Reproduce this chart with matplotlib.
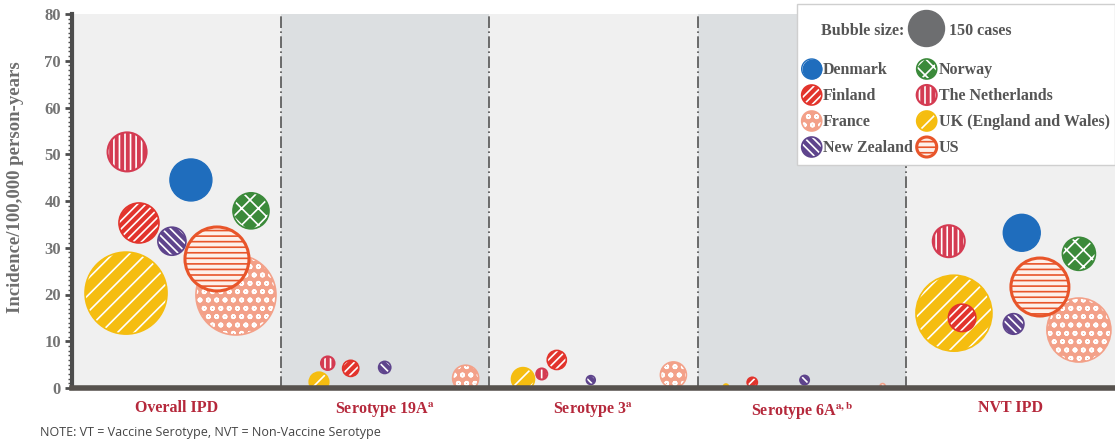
import numpy as np
import matplotlib
matplotlib.use('Agg')
import matplotlib.pyplot as plt
from matplotlib.patches import Rectangle
from matplotlib.ticker import MultipleLocator

# ---------------- data ----------------
panels = ['Overall IPD', 'Serotype 19A', 'Serotype 3', 'Serotype 6A', 'NVT IPD']
panel_sup = ['', 'a', 'a', 'a,b', '']
countries = ['Denmark', 'Finland', 'France', 'New Zealand',
             'Norway', 'The Netherlands', 'UK (England and Wales)', 'US']
nan = np.nan
# incidence per 100,000 person-years, per panel
incidence = {
    'Denmark':                [44.5, nan, nan, nan, 33.2],
    'Finland':                [35.3, 4.2, 6.0, 1.2, 15.0],
    'France':                 [19.9, 2.1, 2.8, 0.4, 12.4],
    'New Zealand':            [31.4, 4.4, 1.7, 1.7, 13.7],
    'Norway':                 [37.9, nan, nan, nan, 28.7],
    'The Netherlands':        [50.5, 5.3, 3.0, nan, 31.4],
    'UK (England and Wales)': [20.3, 1.3, 1.9, 0.3, 16.0],
    'US':                     [27.6, nan, nan, nan, 21.6],
}
# number of cases (bubble size)
cases = {
    'Denmark':                [204, 0, 0, 0, 158],
    'Finland':                [185, 30, 42, 12, 87],
    'France':                 [741, 78, 78, 3, 474],
    'New Zealand':            [91, 17, 9, 10, 49],
    'Norway':                 [150, 0, 0, 0, 126],
    'The Netherlands':        [176, 21, 14, 0, 118],
    'UK (England and Wales)': [778, 44, 61, 3, 668],
    'US':                     [474, 0, 0, 0, 389],
}
# horizontal position of each bubble within its panel
x_offset = {
    'Denmark':                [0.570, nan, nan, nan, 0.553],
    'Finland':                [0.321, 0.336, 0.324, 0.261, 0.267],
    'France':                 [0.786, 0.887, 0.883, 0.886, 0.827],
    'New Zealand':            [0.479, 0.499, 0.487, 0.512, 0.514],
    'Norway':                 [0.858, nan, nan, nan, 0.827],
    'The Netherlands':        [0.264, 0.226, 0.252, nan, 0.203],
    'UK (England and Wales)': [0.259, 0.184, 0.162, 0.135, 0.228],
    'US':                     [0.695, nan, nan, nan, 0.640],
}
ref_cases = 150
yticks = list(range(0, 81, 10))

# ---------------- styles ----------------
style = {
    'Denmark':                dict(color='#1f6dbd', face='#1f6dbd', hatch=None, hc='#1f6dbd', lw=1.0),
    'Finland':                dict(color='#e2342c', face='#e2342c', hatch='////', hc='white', lw=1.2),
    'France':                 dict(color='#f3a189', face='#f3a189', hatch='oo', hc='white', lw=1.2),
    'New Zealand':            dict(color='#5e448c', face='#5e448c', hatch='\\\\\\\\', hc='white', lw=1.2),
    'Norway':                 dict(color='#3b8a3a', face='#3b8a3a', hatch='xx', hc='white', lw=1.2),
    'The Netherlands':        dict(color='#d43b52', face='#d43b52', hatch='|||', hc='white', lw=1.5),
    'UK (England and Wales)': dict(color='#f5bd10', face='#f5bd10', hatch='//', hc='white', lw=1.2),
    'US':                     dict(color='#e8552a', face='#fdf0ea', hatch='---', hc='#e8552a', lw=2.2),
}
draw_order = ['France', 'UK (England and Wales)', 'US', 'Norway', 'Denmark',
              'The Netherlands', 'New Zealand', 'Finland']

plt.rcParams['hatch.linewidth'] = 1.2
SERIF = ['Liberation Serif', 'DejaVu Serif']
plt.rcParams['mathtext.fontset'] = 'stix'

fig = plt.figure(figsize=(11.15, 4.44), dpi=100)
ax = fig.add_axes([72 / 1115, 1 - 388 / 444, 1 - 72 / 1115, (388 - 14) / 444])
ax.set_facecolor('none')
ax.set_xlim(0, 5)
ax.set_ylim(0, 80)

bg = ['#f0f0f0', '#dcdfe1', '#f0f0f0', '#dcdfe1', '#f0f0f0']
for i, c in enumerate(bg):
    ax.axvspan(i, i + 1, color=c, zorder=0, lw=0)
for i in range(1, 5):
    ax.axvline(i, color='#555555', lw=1.2, ls=(0, (7, 2, 1, 2)), zorder=1)

PX_PER_BUBBLE = 18.0  # radius in px of reference bubble


def size_of(n):
    r_px = PX_PER_BUBBLE * np.sqrt(n / ref_cases)
    return (2 * r_px * 0.72) ** 2


for z, name in enumerate(draw_order):
    st = style[name]
    xs, ys, ss = [], [], []
    for p in range(len(panels)):
        v = incidence[name][p]
        if np.isnan(v):
            continue
        xs.append(p + x_offset[name][p])
        ys.append(v)
        ss.append(size_of(cases[name][p]))
    ax.scatter(xs, ys, s=ss, facecolors=st['face'], edgecolors=st['hc'],
               linewidths=0, hatch=st['hatch'], zorder=3 + z * 2)
    ax.scatter(xs, ys, s=ss, facecolors='none', edgecolors=st['color'],
               linewidths=st['lw'], zorder=4 + z * 2)

# axes styling
for sp in ['top', 'right']:
    ax.spines[sp].set_visible(False)
ax.spines['left'].set_linewidth(3)
ax.spines['left'].set_color('#4d4d4d')
ax.spines['bottom'].set_linewidth(4)
ax.spines['bottom'].set_color('#57524e')
ax.spines['left'].set_zorder(30)
ax.spines['bottom'].set_zorder(30)

ax.set_yticks(yticks)
ax.set_yticklabels([str(t) for t in yticks], fontfamily=SERIF,
                   fontweight='bold', fontsize=12, color='#747474')
ax.yaxis.set_minor_locator(MultipleLocator(1))
ax.tick_params(axis='y', which='major', length=5, width=2, color='#4d4d4d', pad=3)
ax.tick_params(axis='y', which='minor', length=3, width=1, color='#4d4d4d')

labels = []
for name, sup in zip(panels, panel_sup):
    if sup:
        labels.append(name + r'$^{\mathbf{' + sup + '}}$')
    else:
        labels.append(name)
ax.set_xticks([i + 0.5 for i in range(len(panels))])
ax.set_xticklabels(labels, fontfamily=SERIF, fontweight='bold', fontsize=11.5,
                   color='#b5283b')
ax.tick_params(axis='x', length=0, pad=9)

ax.set_ylabel('Incidence/100,000 person-years', fontfamily=SERIF,
              fontweight='bold', fontsize=13.5, color='#6e6e6e')
ax.yaxis.set_label_coords(-0.046, 0.537)

# ---------------- legend ----------------
lx0, ly0, lw_, lh_ = 797, 4, 318, 161
lax = fig.add_axes([lx0 / 1115, 1 - (ly0 + lh_) / 444, lw_ / 1115, lh_ / 444])
lax.set_xlim(0, lw_)
lax.set_ylim(lh_, 0)
lax.axis('off')
lax.add_patch(Rectangle((0, 0), lw_, lh_, facecolor='white',
                        edgecolor='#cfcfcf', lw=1.0, zorder=0, clip_on=False))
txt = dict(fontfamily=SERIF, fontweight='bold', fontsize=11.5, color='#555555',
           va='center')
lax.text(107, 27, 'Bubble size:', ha='right', **txt)
lax.scatter([129], [24], s=size_of(ref_cases), color='#6d6e70', zorder=2)
lax.text(152, 27, f'{ref_cases} cases', ha='left', **txt)

rows_y = [65, 91, 117, 143]
cols = [(14.7, 26), (129.7, 142)]
mk_s = (2 * 10 * 0.72) ** 2
for k, name in enumerate(countries):
    col = k // 4
    row = k % 4
    mx, tx = cols[col]
    y = rows_y[row]
    st = style[name]
    lax.scatter([mx], [y], s=mk_s, facecolors=st['face'], edgecolors=st['hc'],
                linewidths=0, hatch=st['hatch'], zorder=2)
    lax.scatter([mx], [y], s=mk_s, facecolors='none', edgecolors=st['color'],
                linewidths=st['lw'], zorder=3)
    lax.text(tx, y + 1, name, ha='left', **txt)

fig.text(40 / 1115, 1 - 432 / 444, 'NOTE: VT = Vaccine Serotype, NVT = Non-Vaccine Serotype',
         fontfamily='Open Sans', fontsize=9, color='#444444', va='center', ha='left')

fig.savefig('out.png', dpi=100)
